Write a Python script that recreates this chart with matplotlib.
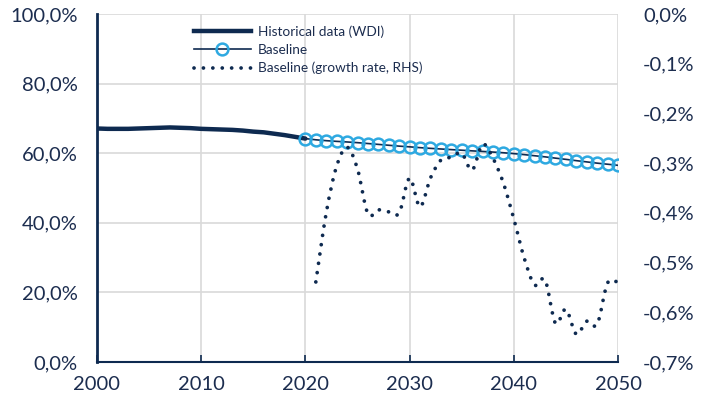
import numpy as np
import matplotlib.pyplot as plt
from matplotlib.path import Path
from matplotlib.patches import PathPatch
from matplotlib.lines import Line2D
from matplotlib.ticker import FuncFormatter

plt.rcParams['font.family'] = ['Lato', 'DejaVu Sans']

NAVY = '#0e2a50'
BLUE = '#2ea9e1'
GRID = '#d9d9d9'
TEXT = '#1c2d4f'

# Historical data (WDI), % of total
hist_years = list(range(2000, 2021))
hist_values = [67.1, 67.0, 67.0, 67.0, 67.1, 67.2, 67.3, 67.4, 67.3, 67.2,
               67.0, 66.9, 66.8, 66.7, 66.5, 66.2, 66.0, 65.6, 65.2, 64.7,
               64.2]

# Baseline projection, % of total
base_years = list(range(2020, 2051))
base_values = [64.20, 63.85, 63.60, 63.40, 63.23, 63.03, 62.78, 62.53, 62.28, 62.03,
               61.83, 61.59, 61.39, 61.21, 61.03, 60.86, 60.67, 60.51, 60.33, 60.13,
               59.88, 59.59, 59.27, 58.95, 58.58, 58.23, 57.86, 57.50, 57.14, 56.83,
               56.52]

# Baseline growth rate (RHS), %
growth_years = list(range(2021, 2051))
growth_values = [-0.539, -0.400, -0.306, -0.268, -0.312, -0.402, -0.394, -0.398, -0.400, -0.330,
                 -0.388, -0.330, -0.294, -0.288, -0.280, -0.314, -0.262, -0.290, -0.340, -0.412,
                 -0.491, -0.545, -0.535, -0.622, -0.594, -0.644, -0.618, -0.624, -0.541, -0.540]


def smooth_path(xs, ys):
    """Bezier path through the points, like Excel's smoothed line."""
    pts = np.column_stack([xs, ys]).astype(float)
    n = len(pts)
    verts = [pts[0]]
    codes = [Path.MOVETO]
    for i in range(n - 1):
        p0 = pts[max(i - 1, 0)]
        p1 = pts[i]
        p2 = pts[i + 1]
        p3 = pts[min(i + 2, n - 1)]
        verts += [p1 + (p2 - p0) / 6, p2 - (p3 - p1) / 6, p2]
        codes += [Path.CURVE4] * 3
    return Path(verts, codes)


def pct_left(v, _):
    return f'{v:.1f}%'.replace('.', ',')


def pct_right(v, _):
    if abs(v) < 1e-9:
        v = 0.0
    return f'{v:.1f}%'.replace('.', ',')


fig = plt.figure(figsize=(7.09, 4.05), dpi=100)
ax = fig.add_axes([97 / 709, 1 - 362 / 405, 521 / 709, 348 / 405])

ax.set_xlim(2000, 2050)
ax.set_ylim(0, 100)
ax.set_xticks(range(2000, 2051, 10))
ax.set_yticks(range(0, 101, 20))
ax.yaxis.set_major_formatter(FuncFormatter(pct_left))
ax.grid(color=GRID, lw=1.2)
ax.set_axisbelow(True)
ax.spines['top'].set_visible(False)
ax.spines['right'].set_visible(False)
ax.spines['left'].set_color(NAVY)
ax.spines['left'].set_linewidth(2)
ax.spines['bottom'].set_color(NAVY)
ax.spines['bottom'].set_linewidth(1.5)
ax.tick_params(axis='y', length=0, pad=14, labelsize=14.5, labelcolor=TEXT)
ax.tick_params(axis='x', direction='in', length=5, width=1.2, color=NAVY,
               pad=10, labelsize=14.5, labelcolor=TEXT)

ax.plot(hist_years, hist_values, color=NAVY, lw=3.2, solid_capstyle='round', zorder=3)
ax.plot(base_years, base_values, color=NAVY, lw=1.2, marker='o', markersize=8.5,
        markerfacecolor='none', markeredgecolor=BLUE, markeredgewidth=1.8, zorder=4)

ax2 = ax.twinx()
ax2.set_ylim(-0.7, 0)
ax2.set_yticks([-0.7, -0.6, -0.5, -0.4, -0.3, -0.2, -0.1, 0.0])
ax2.yaxis.set_major_formatter(FuncFormatter(pct_right))
for s in ax2.spines.values():
    s.set_visible(False)
ax2.tick_params(axis='y', length=0, pad=18, labelsize=14.5, labelcolor=TEXT)

dot_style = (0, (0.01, 2.5))
ax2.add_patch(PathPatch(smooth_path(growth_years, growth_values), facecolor='none',
                        edgecolor=NAVY, lw=2.7, linestyle=dot_style, capstyle='round'))

handles = [
    Line2D([], [], color=NAVY, lw=3.2),
    Line2D([], [], color=NAVY, lw=1.2, marker='o', markersize=8.5, markerfacecolor='none',
           markeredgecolor=BLUE, markeredgewidth=1.8),
    Line2D([], [], color=NAVY, lw=2.7, linestyle=dot_style, dash_capstyle='round'),
]
labels = ['Historical data (WDI)', 'Baseline', 'Baseline (growth rate, RHS)']
ax2.legend(handles, labels, loc='upper left', bbox_to_anchor=(0.186, 0.968),
           frameon=False, fontsize=9.8, handlelength=4.2, handletextpad=0.5,
           labelspacing=0.45, borderpad=0, borderaxespad=0, labelcolor=TEXT)

fig.savefig('out.png', dpi=100)
